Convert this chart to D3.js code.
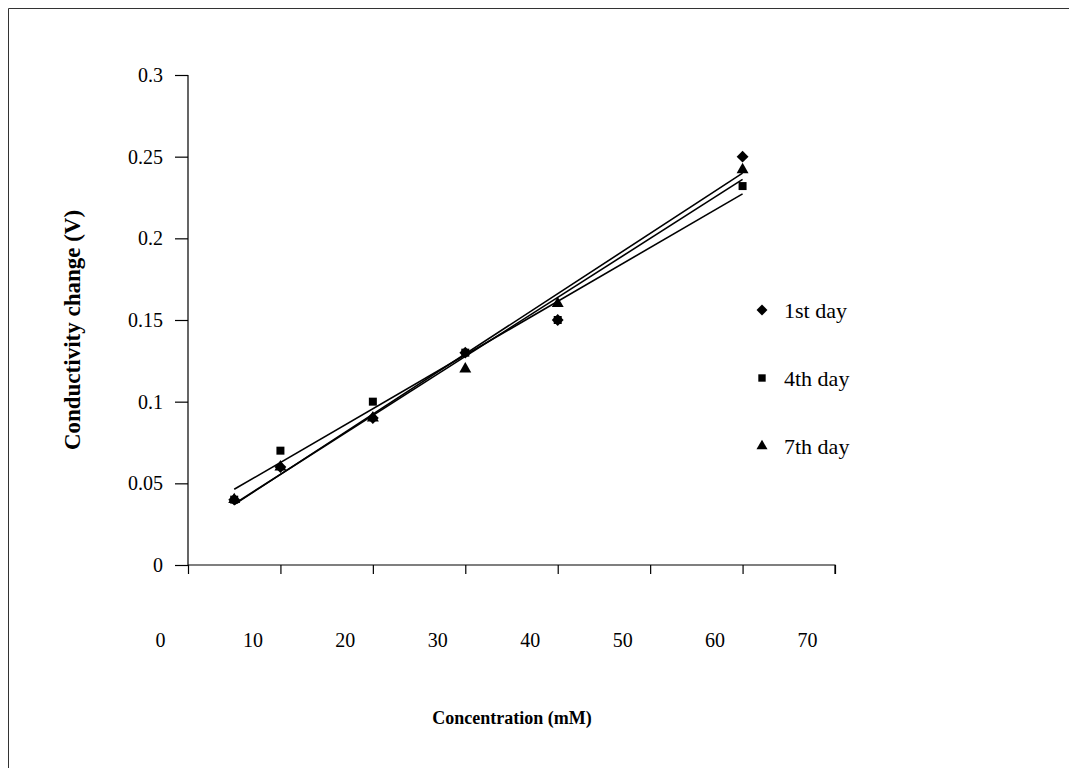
<!DOCTYPE html>
<html>
<head>
<meta charset="utf-8">
<script src="https://cdn.jsdelivr.net/npm/d3@7"></script>
<style>
  html, body { margin: 0; padding: 0; background: #fff; }
  svg { display: block; }
  text { font-family: "Liberation Serif", "Times New Roman", serif; fill: #000; }
</style>
</head>
<body>
<svg id="chart" width="1069" height="768"></svg>
<script>
// Concentration (mM) of each measurement
const concentrations = [5, 10, 20, 30, 40, 60];

// Conductivity change (V) per day
const day1 = [0.04, 0.06, 0.09, 0.13, 0.15, 0.25];
const day4 = [0.04, 0.07, 0.10, 0.13, 0.15, 0.232];
const day7 = [0.04, 0.06, 0.09, 0.12, 0.16, 0.242];

const seriesNames = ["1st day", "4th day", "7th day"];
const xTicks = [0, 10, 20, 30, 40, 50, 60, 70];
const yTicks = [0, 0.05, 0.1, 0.15, 0.2, 0.25, 0.3];

// square turned 45 degrees, like a spreadsheet diamond marker
const wideDiamond = {
  draw(ctx, size) {
    const r = Math.sqrt(size / 2);
    ctx.moveTo(0, -r); ctx.lineTo(r, 0); ctx.lineTo(0, r); ctx.lineTo(-r, 0); ctx.closePath();
  }
};

const series = [
  { name: seriesNames[0], values: day1, symbol: wideDiamond, size: 70 },
  { name: seriesNames[1], values: day4, symbol: d3.symbolSquare, size: 64 },
  { name: seriesNames[2], values: day7, symbol: d3.symbolTriangle, size: 62 }
];

const svg = d3.select("#chart");

// outer frame of the figure
svg.append("path")
  .attr("d", "M8.5,768 V8.5 H1069")
  .attr("fill", "none").attr("stroke", "#333").attr("stroke-width", 1);

const x = d3.scaleLinear().domain([0, 70]).range([188, 835]);
const y = d3.scaleLinear().domain([0, 0.3]).range([565, 75]);

// y axis
const yAxis = d3.axisLeft(y).tickValues(yTicks).tickSize(13).tickPadding(12)
  .tickFormat(d => d === 0 ? "0" : String(+d.toFixed(2)));
const gy = svg.append("g").attr("transform", `translate(${x(0)},0)`).call(yAxis);
gy.select(".domain").attr("d", `M-13,${y(0.3)}.5H0V${y(0)}`);
gy.selectAll("text").style("font-size", "20px");

// x axis
const xAxis = d3.axisBottom(x).tickValues(xTicks).tickSize(9).tickPadding(0)
  .tickFormat(d3.format("d"));
const gx = svg.append("g").attr("transform", `translate(0,${y(0)})`).call(xAxis);
gx.select(".domain").attr("d", `M${x(0)},0H${x(70)}V9`);
gx.selectAll("text").style("font-size", "20px").attr("dx", -28).attr("y", 68);
svg.selectAll(".domain, .tick line").attr("stroke", "#000").attr("stroke-width", 1.2);

// least-squares trend line for each day
function fit(xs, ys) {
  const mx = d3.mean(xs), my = d3.mean(ys);
  const sxy = d3.sum(xs, (v, i) => (v - mx) * (ys[i] - my));
  const sxx = d3.sum(xs, v => (v - mx) * (v - mx));
  const b = sxy / sxx;
  return v => my + b * (v - mx);
}
const x0 = d3.min(concentrations), x1 = d3.max(concentrations);
series.forEach(s => {
  const f = fit(concentrations, s.values);
  svg.append("line")
    .attr("x1", x(x0)).attr("y1", y(f(x0)))
    .attr("x2", x(x1)).attr("y2", y(f(x1)))
    .attr("stroke", "#000").attr("stroke-width", 1.6);
});

// markers
series.forEach(s => {
  svg.append("g").selectAll("path")
    .data(s.values)
    .join("path")
    .attr("d", d3.symbol().type(s.symbol).size(s.size))
    .attr("transform", (v, i) => `translate(${x(concentrations[i])},${y(v)})`)
    .attr("fill", "#000");
});

// legend
const legend = svg.append("g").attr("transform", "translate(762,0)");
series.forEach((s, i) => {
  const yy = 311 + i * 68;
  legend.append("path")
    .attr("d", d3.symbol().type(s.symbol).size(s.size * 0.85))
    .attr("transform", `translate(0,${yy - 1})`).attr("fill", "#000");
  legend.append("text").attr("x", 22).attr("y", yy + 7)
    .style("font-size", "22px").text(s.name);
});

// axis titles
svg.append("text")
  .attr("x", 512).attr("y", 724).attr("text-anchor", "middle")
  .style("font-size", "18px").style("font-weight", "bold")
  .text("Concentration (mM)");
svg.append("text")
  .attr("transform", "translate(80,330) rotate(-90)").attr("text-anchor", "middle")
  .style("font-size", "23px").style("font-weight", "bold")
  .text("Conductivity change (V)");
</script>
</body>
</html>
